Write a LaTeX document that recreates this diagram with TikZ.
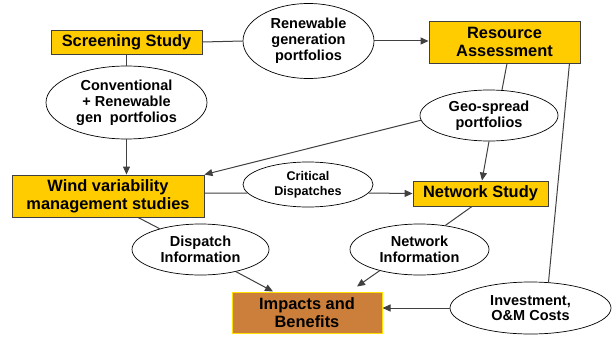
\documentclass[tikz,border=0pt]{standalone}
\usepackage{fontspec}
\setmainfont{Liberation Sans}
\usetikzlibrary{arrows.meta,shapes.geometric}
\definecolor{boxyellow}{HTML}{FFCC00}
\definecolor{impbrown}{HTML}{CC7F3A}
\definecolor{impborder}{HTML}{FFE000}
\definecolor{linegray}{HTML}{404040}
\tikzset{
  stbox/.style={draw=linegray, line width=0.9pt, fill=boxyellow, inner sep=0pt, align=center,
    font=\fontsize{16.4}{18.4}\selectfont\bfseries},
  impbox/.style={draw=impborder, line width=1pt, fill=impbrown, inner sep=0pt, align=center,
    font=\fontsize{16.4}{18.4}\selectfont\bfseries},
  oval/.style={draw=black, line width=0.7pt, ellipse, inner sep=0pt, align=center, fill=white,
    font=\fontsize{14.5}{15.8}\selectfont\bfseries},
  smalloval/.style={oval, font=\fontsize{12.6}{15}\selectfont\bfseries},
  conn/.style={draw=linegray, line width=1pt},
  arr/.style={conn, -{Triangle[length=8pt,width=7pt]}, color=linegray},
}
\begin{document}
\begin{tikzpicture}[x=1pt,y=-1pt]
\path[use as bounding box] (0,0) rectangle (612,337);
% boxes
\node[stbox, minimum width=151pt, minimum height=24pt] (screen) at (126.5,42) {Screening Study};
\node[stbox, minimum width=151pt, minimum height=42pt] (res) at (504.5,42) {Resource\\Assessment};
\node[stbox, minimum width=192pt, minimum height=42pt] (wind) at (108,196) {Wind variability\\management studies};
\node[stbox, minimum width=135pt, minimum height=25pt] (net) at (480.5,193.5) {Network Study};
\node[impbox, minimum width=150pt, minimum height=41pt] (imp) at (307,312.5) {Impacts and\\Benefits};
% ellipses
\node[oval, minimum width=131pt, minimum height=75pt] (ren) at (308.5,41) {Renewable\\generation\\portfolios};
\node[oval, minimum width=161pt, minimum height=73pt] (conv) at (126.5,102.5) {Conventional\\+ Renewable\\gen\ \ portfolios};
\node[oval, minimum width=138pt, minimum height=51pt] (geo) at (489,115.5) {Geo-spread\\portfolios};
\node[smalloval, minimum width=130pt, minimum height=45pt] (crit) at (308,184.5) {Critical\\Dispatches};
\node[oval, minimum width=137pt, minimum height=51pt] (disp) at (200.5,249.5) {Dispatch\\Information};
\node[oval, minimum width=139pt, minimum height=51pt] (ninfo) at (419.5,249.5) {Network\\Information};
\node[oval, minimum width=161pt, minimum height=52pt] (inv) at (530.5,308) {Investment,\\O\&M Costs};
% connectors
\draw[conn] (screen.east) -- (ren.west);
\draw[arr] (ren.east) -- (ren.east -| res.west);
\draw[conn] (screen.south) -- (conv.north);
\draw[arr] (conv.south) -- (conv.south |- wind.north);
\draw[conn] ([xshift=2.5pt]res.south) -- (geo.63);
\draw[arr] (geo.184) -- (wind.north east);
\draw[arr] (geo.south) -- ([xshift=1.5pt]net.north);
\draw[conn] ([xshift=-11pt]res.south east) -- (inv.55);
\draw[conn] ([yshift=3pt]wind.east) -- (crit.188);
\draw[arr] (crit.352) -- (net.west);
\draw[conn] ([xshift=30pt]wind.south) -- (disp.153);
\draw[arr] (disp.328) -- ([xshift=-34pt]imp.north);
\draw[conn] ([xshift=-8.5pt]net.south) -- (ninfo.43);
\draw[arr] (ninfo.208) -- ([xshift=50pt,yshift=5pt]imp.north);
\draw[arr] (inv.west) -- (inv.west -| imp.east);
\end{tikzpicture}
\end{document}
